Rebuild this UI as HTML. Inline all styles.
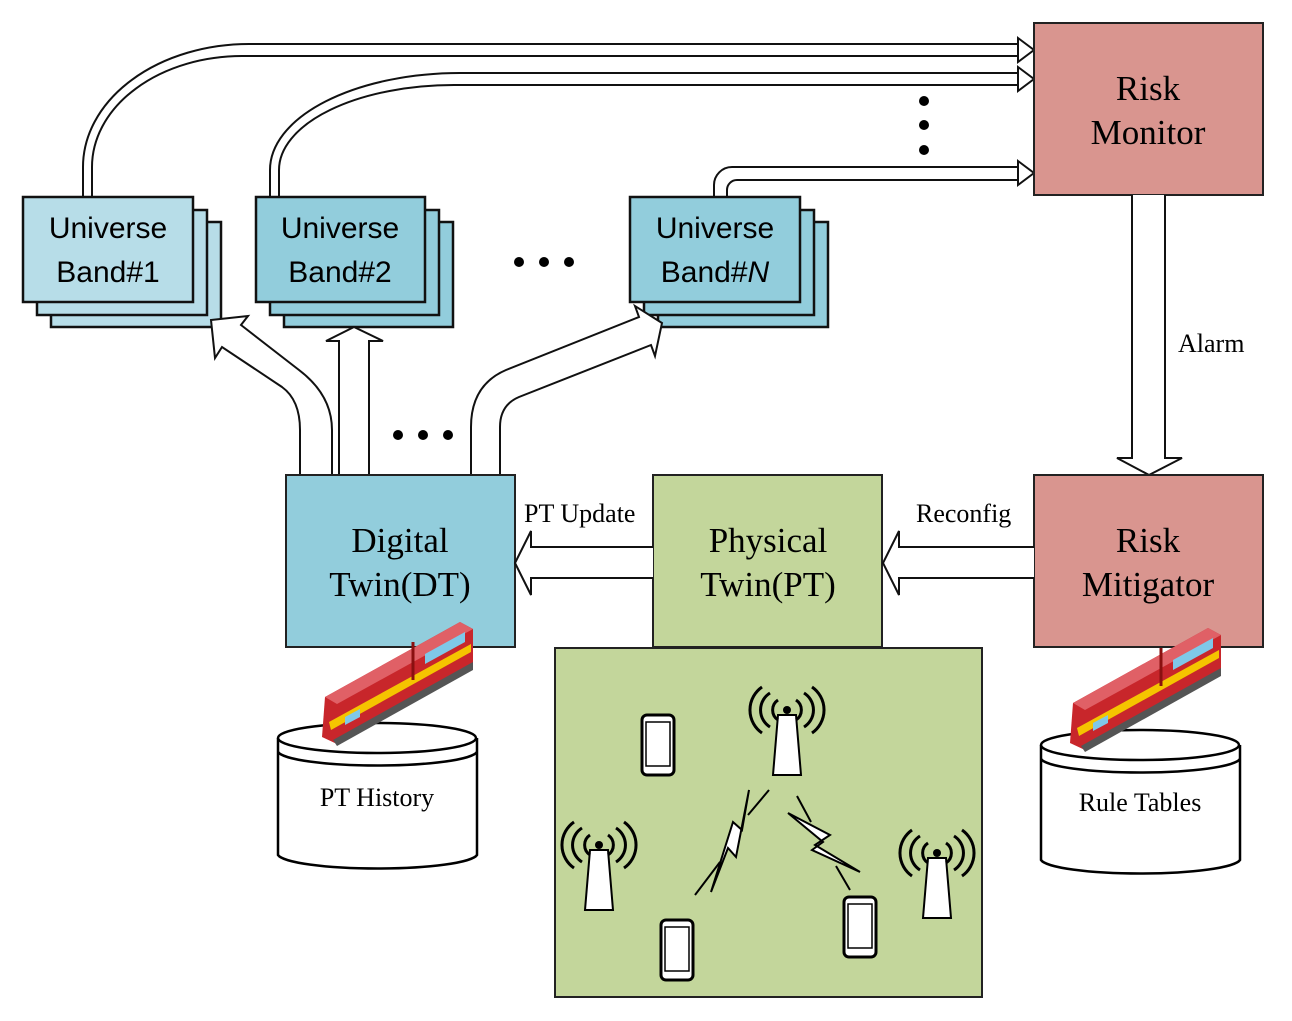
<!DOCTYPE html>
<html><head><meta charset="utf-8"><style>
html,body{margin:0;padding:0;background:#fff}
svg{display:block}
.s{font-family:"Liberation Sans",sans-serif;font-size:30px}
.r{font-family:"Liberation Serif",serif}
</style></head><body>
<svg width="1292" height="1021" viewBox="0 0 1292 1021" xmlns="http://www.w3.org/2000/svg">
<defs>
<g id="train">
  <polygon points="0,75 135,0 148,7 148,45 12,122 -3,115" fill="#c8262b"/>
  <polygon points="0,75 135,0 148,7 12,82" fill="#e06066"/>
  <polygon points="4,100 146,22 146,30 6,108" fill="#f5c400"/>
  <path d="M88,20 V58" stroke="#8a1010" stroke-width="3" fill="none"/>
  <polygon points="100,32 140,10 140,20 100,42" fill="#7fc8e8"/>
  <polygon points="20,95 35,87 35,95 20,103" fill="#7fc8e8"/>
  <polygon points="8,118 148,40 148,48 12,124" fill="#555"/>
</g>
<g id="tower">
  <polygon points="-9,0 9,0 14,60 -14,60" fill="#fff" stroke="#000" stroke-width="2"/>
  <circle cx="0" cy="-5" r="4" fill="#000"/>
  <g fill="none" stroke="#000" stroke-width="3">
    <path d="M-9,-15 a12,12 0 0 0 0,20 M9,-15 a12,12 0 0 1 0,20"/>
    <path d="M-17,-22 a20,20 0 0 0 0,34 M17,-22 a20,20 0 0 1 0,34"/>
    <path d="M-25,-28 a28,28 0 0 0 0,46 M25,-28 a28,28 0 0 1 0,46"/>
  </g>
</g>
<g id="phone">
  <rect x="0" y="0" width="32" height="60" rx="5" fill="#fff" stroke="#000" stroke-width="3"/>
  <rect x="4" y="7" width="24" height="44" fill="#fff" stroke="#000" stroke-width="1.5"/>
</g>
</defs>

<!-- double line arrows to risk monitor -->
<g fill="none" stroke="#111" stroke-width="2">
  <path d="M83,197 V167 A166,123 0 0 1 249,44 H1020"/>
  <path d="M92,197 V167 A150,111 0 0 1 242,56 H1020"/>
  <path d="M270,197 V170 A190,97 0 0 1 460,73 H1020"/>
  <path d="M279,197 V170 A175,85 0 0 1 454,85 H1020"/>
  <path d="M714,197 V185 A18,18 0 0 1 732,167 H1020"/>
  <path d="M727,197 V190 A10,10 0 0 1 737,180 H1020"/>
</g>
<g fill="#fff" stroke="#111" stroke-width="2">
  <path d="M1018,38 L1034,50 L1018,62 Z"/>
  <path d="M1018,67 L1034,79 L1018,91 Z"/>
  <path d="M1018,161 L1034,173 L1018,185 Z"/>
</g>
<g fill="#000"><circle cx="924" cy="101" r="5"/><circle cx="924" cy="125" r="5"/><circle cx="924" cy="150" r="5"/></g>

<!-- Risk Monitor -->
<rect x="1034" y="23" width="229" height="172" fill="#d9958f" stroke="#222" stroke-width="2"/>
<text class="r" x="1148" y="100" font-size="35" text-anchor="middle">Risk</text>
<text class="r" x="1148" y="144" font-size="35" text-anchor="middle">Monitor</text>

<!-- Alarm arrow -->
<path d="M1132,195 V458 H1117 L1149,475 L1182,458 H1165 V195" fill="#fff" stroke="#111" stroke-width="2"/>
<text class="r" x="1178" y="352" font-size="26">Alarm</text>

<!-- Universe bands -->
<g stroke="#111" stroke-width="2.5">
  <rect x="51" y="222" width="170" height="105" fill="#b7dde8"/>
  <rect x="37" y="210" width="170" height="105" fill="#b7dde8"/>
  <rect x="23" y="197" width="170" height="105" fill="#b7dde8"/>
  <rect x="284" y="222" width="169" height="105" fill="#92cddc"/>
  <rect x="270" y="210" width="169" height="105" fill="#92cddc"/>
  <rect x="256" y="197" width="169" height="105" fill="#92cddc"/>
  <rect x="658" y="222" width="170" height="105" fill="#92cddc"/>
  <rect x="644" y="210" width="170" height="105" fill="#92cddc"/>
  <rect x="630" y="197" width="170" height="105" fill="#92cddc"/>
</g>
<text class="s" x="108" y="238" text-anchor="middle">Universe</text>
<text class="s" x="108" y="282" text-anchor="middle">Band#1</text>
<text class="s" x="340" y="238" text-anchor="middle">Universe</text>
<text class="s" x="340" y="282" text-anchor="middle">Band#2</text>
<text class="s" x="715" y="238" text-anchor="middle">Universe</text>
<text class="s" x="715" y="282" text-anchor="middle">Band#<tspan font-style="italic">N</tspan></text>
<g fill="#000"><circle cx="519" cy="262" r="5"/><circle cx="544" cy="262" r="5"/><circle cx="569" cy="262" r="5"/>
<circle cx="398" cy="435" r="5"/><circle cx="423" cy="435" r="5"/><circle cx="448" cy="435" r="5"/></g>

<!-- arrows from DT up -->
<g fill="#fff" stroke="#111" stroke-width="2" stroke-linejoin="miter">
  <path d="M300,475 V430 Q300,400 282,387 L222,347 L215,358 L211,320 L248,316 L241,325 L299,370 Q332,395 332,430 V475 Z"/>
  <path d="M339,475 V341 H326 L354,327 L383,341 H369 V475 Z"/>
  <path d="M471,475 V427 Q471,385 506,370 L639,317 L635,306 L662,323 L655,356 L651,345 L519,397 Q500,405 500,427 V475 Z"/>
</g>

<!-- DT -->
<rect x="286" y="475" width="229" height="172" fill="#92cddc" stroke="#222" stroke-width="2"/>
<text class="r" x="400" y="552" font-size="35" text-anchor="middle">Digital</text>
<text class="r" x="400" y="596" font-size="35" text-anchor="middle">Twin(DT)</text>

<!-- PT -->
<rect x="653" y="475" width="229" height="172" fill="#c3d69b" stroke="#222" stroke-width="2"/>
<text class="r" x="768" y="552" font-size="35" text-anchor="middle">Physical</text>
<text class="r" x="768" y="596" font-size="35" text-anchor="middle">Twin(PT)</text>

<!-- Risk mitigator -->
<rect x="1034" y="475" width="229" height="172" fill="#d9958f" stroke="#222" stroke-width="2"/>
<text class="r" x="1148" y="552" font-size="35" text-anchor="middle">Risk</text>
<text class="r" x="1148" y="596" font-size="35" text-anchor="middle">Mitigator</text>

<!-- horizontal arrows -->
<g fill="#fff" stroke="#111" stroke-width="2">
  <path d="M653,547 H531 V531 L515,563 L531,595 V578 H653"/>
  <path d="M1034,547 H899 V531 L883,563 L899,595 V578 H1034"/>
</g>
<text class="r" x="524" y="522" font-size="26">PT Update</text>
<text class="r" x="916" y="522" font-size="26">Reconfig</text>

<!-- network box -->
<rect x="555" y="648" width="427" height="349" fill="#c3d69b" stroke="#222" stroke-width="2"/>
<use href="#tower" x="787" y="715"/>
<use href="#tower" x="599" y="850"/>
<use href="#tower" x="937" y="858"/>
<use href="#phone" x="642" y="715"/>
<use href="#phone" x="661" y="920"/>
<use href="#phone" x="844" y="897"/>
<g stroke="#000" stroke-width="2" fill="#fff">
  <path d="M695,895 L720,862 M748,815 L769,790"/>
  <path d="M711,892 L728,848 L736,857 L749,790 L742,830 L733,822 Z"/>
  <path d="M797,796 L811,822 M836,866 L850,890"/>
  <path d="M788,813 L830,835 L815,845 L860,872 L812,850 L823,842 Z"/>
</g>

<!-- cylinders -->
<g fill="#fff" stroke="#000" stroke-width="2.5">
  <path d="M278,738 V855 A100,15 0 0 0 477,855 V738"/>
  <ellipse cx="377" cy="738" rx="99" ry="15"/>
  <path d="M278,752 A100,15 0 0 0 477,752" fill="none"/>
  <path d="M1041,745 V860 A100,15 0 0 0 1240,860 V745"/>
  <ellipse cx="1140" cy="745" rx="99" ry="15"/>
  <path d="M1041,759 A100,15 0 0 0 1240,759" fill="none"/>
</g>
<text class="r" x="377" y="806" font-size="26" text-anchor="middle">PT History</text>
<text class="r" x="1140" y="811" font-size="26" text-anchor="middle">Rule Tables</text>

<use href="#train" x="325" y="622"/>
<use href="#train" x="1073" y="628"/>
</svg>
</body></html>
